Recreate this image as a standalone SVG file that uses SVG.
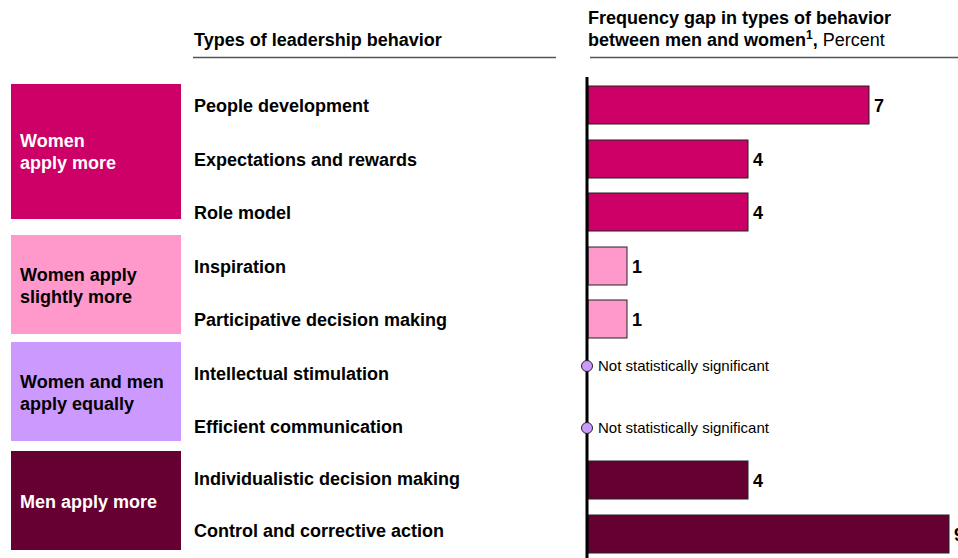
<svg xmlns="http://www.w3.org/2000/svg" width="958" height="558" viewBox="0 0 958 558">
<style>
.t{font-family:"Liberation Sans",Arial,sans-serif;font-size:18px;font-weight:bold;fill:#000}
.w{fill:#fff}
.v{font-family:"Liberation Sans",Arial,sans-serif;font-size:18px;font-weight:bold;fill:#000}
.n{font-family:"Liberation Sans",Arial,sans-serif;font-size:15px;fill:#000}
.bar{stroke:#222;stroke-width:1}
.c1{fill:#CC0066}.c2{fill:#FF99CC}.c3{fill:#CC99FF}.c4{fill:#660033}
</style>
<rect width="958" height="558" fill="#fff"/>
<g id="header-left">
<text class="t" x="194" y="46">Types of leadership behavior</text>
<line x1="193" y1="57.5" x2="556" y2="57.5" stroke="#555" stroke-width="1.5"/>
</g>
<g id="header-right">
<text class="t" x="588" y="24">Frequency gap in types of behavior</text>
<text class="t" x="588" y="46">between men and women<tspan font-size="12" dy="-7">1</tspan><tspan dy="7">,</tspan><tspan font-weight="normal"> Percent</tspan></text>
<line x1="590" y1="57.5" x2="958" y2="57.5" stroke="#555" stroke-width="1.5"/>
</g>
<g id="group-women-more">
<rect class="c1" x="11" y="84" width="170" height="135"/>
<text class="t w" x="20" y="147">Women</text>
<text class="t w" x="20" y="169">apply more</text>
</g>
<g id="group-women-slightly">
<rect class="c2" x="11" y="235" width="170" height="99"/>
<text class="t" x="20" y="281">Women apply</text>
<text class="t" x="20" y="303">slightly more</text>
</g>
<g id="group-equal">
<rect class="c3" x="11" y="342" width="170" height="99"/>
<text class="t" x="20" y="388">Women and men</text>
<text class="t" x="20" y="410">apply equally</text>
</g>
<g id="group-men-more">
<rect class="c4" x="11" y="451" width="170" height="99"/>
<text class="t w" x="20" y="508">Men apply more</text>
</g>
<g id="labels">
<text class="t" x="194" y="112">People development</text>
<text class="t" x="194" y="166">Expectations and rewards</text>
<text class="t" x="194" y="219">Role model</text>
<text class="t" x="194" y="273">Inspiration</text>
<text class="t" x="194" y="326">Participative decision making</text>
<text class="t" x="194" y="380">Intellectual stimulation</text>
<text class="t" x="194" y="433">Efficient communication</text>
<text class="t" x="194" y="485">Individualistic decision making</text>
<text class="t" x="194" y="537">Control and corrective action</text>
</g>
<g id="bars">
<rect class="bar c1" x="588" y="86" width="281" height="38"/>
<text class="v" x="874" y="112">7</text>
<rect class="bar c1" x="588" y="140" width="160" height="38"/>
<text class="v" x="753" y="166">4</text>
<rect class="bar c1" x="588" y="193" width="160" height="38"/>
<text class="v" x="753" y="219">4</text>
<rect class="bar c2" x="588" y="247" width="39" height="38"/>
<text class="v" x="632" y="273">1</text>
<rect class="bar c2" x="588" y="300" width="39" height="38"/>
<text class="v" x="632" y="326">1</text>
<rect class="bar c4" x="588" y="461" width="160" height="38"/>
<text class="v" x="753" y="487">4</text>
<rect class="bar c4" x="588" y="515" width="361" height="38"/>
<text class="v" x="954" y="541">9</text>
</g>
<g id="axis">
<line x1="587" y1="77" x2="587" y2="558" stroke="#000" stroke-width="3"/>
</g>
<g id="not-significant">
<circle class="c3" cx="587" cy="366" r="5.5" stroke="#222" stroke-width="1"/>
<text class="n" x="598" y="371">Not statistically significant</text>
<circle class="c3" cx="587" cy="428" r="5.5" stroke="#222" stroke-width="1"/>
<text class="n" x="598" y="433">Not statistically significant</text>
</g>
</svg>
